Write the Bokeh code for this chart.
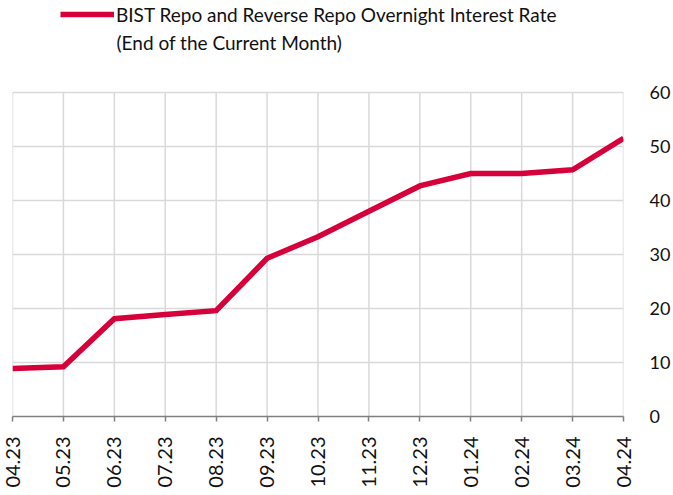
from bokeh.plotting import figure
from bokeh.models import Range1d, FixedTicker, LinearAxis, Legend, LegendItem, Grid, Label
from bokeh.embed import file_html
from bokeh.resources import INLINE

months = ["04.23", "05.23", "06.23", "07.23", "08.23", "09.23", "10.23",
          "11.23", "12.23", "01.24", "02.24", "03.24", "04.24"]
rate = [8.9, 9.2, 18.1, 18.9, 19.6, 29.3, 33.3, 38.0, 42.7, 45.0, 45.0, 45.7, 51.5]
series_line1 = "BIST Repo and Reverse Repo Overnight Interest Rate"
series_line2 = "(End of the Current Month)"
y_ticks = [0, 10, 20, 30, 40, 50, 60]

FONT = "Lato"
RED = "#D6003A"
GRID = "#d9d9d9"
TXT = "#111111"

FRAME_H = 416        # full frame height in px (legend lives in its top part)
GRID_H = 324         # px used by the 0..60 scale
xs = list(range(len(months)))
y_top = y_ticks[-1] * FRAME_H / GRID_H

p = figure(frame_width=611, frame_height=FRAME_H, output_backend="svg", toolbar_location=None,
           x_range=Range1d(0, len(months) - 1), y_range=Range1d(0, y_top),
           x_axis_location=None, y_axis_location=None,
           min_border_left=12, min_border_right=0, min_border_top=0, min_border_bottom=0)
p.outline_line_color = None
p.background_fill_color = "white"
p.border_fill_color = "white"
p.xgrid.visible = False
p.ygrid.visible = False

xaxis = LinearAxis(ticker=FixedTicker(ticks=xs),
                   major_label_overrides={i: m for i, m in enumerate(months)})
xaxis.major_label_orientation = 1.5708
xaxis.axis_line_color = "#808080"
xaxis.axis_line_width = 1.5
xaxis.major_tick_line_color = "#808080"
xaxis.major_tick_line_width = 1.5
xaxis.major_tick_in = 0
xaxis.major_tick_out = 5
xaxis.minor_tick_line_color = None
xaxis.major_label_text_font = FONT
xaxis.major_label_text_font_size = "20px"
xaxis.major_label_text_color = TXT
xaxis.major_label_standoff = 15
p.add_layout(xaxis, "below")

yaxis = LinearAxis(ticker=FixedTicker(ticks=y_ticks))
yaxis.axis_line_color = None
yaxis.major_tick_line_color = None
yaxis.minor_tick_line_color = None
yaxis.major_label_text_font = FONT
yaxis.major_label_text_font_size = "18px"
yaxis.major_label_text_color = TXT
yaxis.major_label_standoff = 20
p.add_layout(yaxis, "right")

# horizontal grid lines at the value ticks
p.add_layout(Grid(dimension=1, ticker=yaxis.ticker, grid_line_color=GRID, grid_line_width=1.5))
# vertical grid lines, only over the 0..60 scale
p.segment(x0=xs, y0=[y_ticks[0]] * len(xs), x1=xs, y1=[y_ticks[-1]] * len(xs),
          line_color=GRID, line_width=1.5)

r = p.line(xs, rate, line_color=RED, line_width=5.5, line_join="miter")

legend = Legend(items=[LegendItem(label=series_line1, renderers=[r])],
                location=(48, FRAME_H - 2 - 24),
                label_text_font=FONT, label_text_font_size="19px",
                label_text_color=TXT, label_standoff=2,
                glyph_width=54, glyph_height=24, label_height=24,
                padding=0, margin=0, spacing=0,
                border_line_color=None, background_fill_alpha=0)
p.add_layout(legend, "center")

p.add_layout(Label(x=104, y=FRAME_H - 42, x_units="screen", y_units="screen",
                   text=series_line2, text_font=FONT, text_font_size="19px",
                   text_color=TXT, text_baseline="middle", text_align="left"))

open("out.html", "w").write(file_html(p, INLINE))
